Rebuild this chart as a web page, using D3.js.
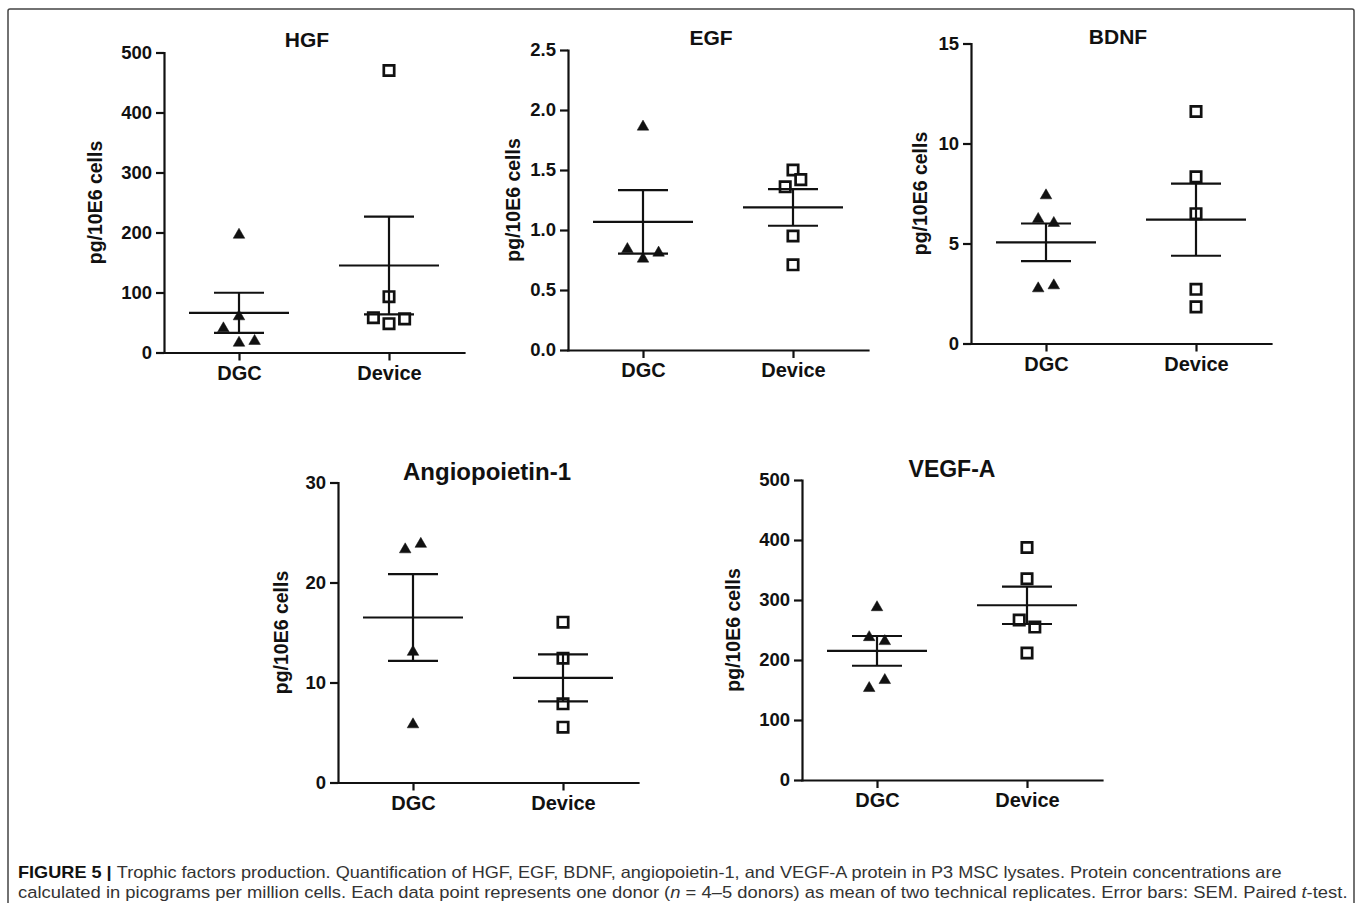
<!DOCTYPE html>
<html>
<head>
<meta charset="utf-8">
<script src="https://cdn.jsdelivr.net/npm/d3@7"></script>
<style>
  body { margin: 0; background: #fff; }
  svg { display: block; }
  .chart text { font-family: "Liberation Sans", Arial, sans-serif; font-weight: bold; fill: #111; }
  .caption { font-family: "Liberation Sans", Arial, sans-serif; font-size: 16.5px; fill: #333; }
</style>
</head>
<body>
<svg id="fig" width="1360" height="903"></svg>
<script>
// groups on the x axis
var groups = ["DGC", "Device"];

// values, pg/10E6 cells
var hgfDgc = [196, 60, 40, 16, 19];
var hgfDevice = [470, 93, 58, 48, 56];
var egfDgc = [1.86, 0.84, 0.76, 0.81];
var egfDevice = [1.50, 1.42, 1.36, 0.95, 0.71];
var bdnfDgc = [7.4, 6.22, 6.02, 2.75, 2.9];
var bdnfDevice = [11.6, 8.33, 6.49, 2.71, 1.83];
var angDgc = [23.3, 23.85, 13.05, 5.8];
var angDevice = [16.03, 12.43, 7.87, 5.53];
var vegfDgc = [287.7, 237.8, 231.2, 166.3, 153];
var vegfDevice = [387.5, 335.4, 266.6, 254.9, 211.7];

// side-by-side spreading of overlapping points (GraphPad scatter layout)
var hgfDgcSpread = [0, 0, -2, 0, 2];
var hgfDeviceSpread = [0, 0, -2, 0, 2];
var egfDgcSpread = [0, -2, 0, 2];
var egfDeviceSpread = [0, 1, -1, 0, 0];
var bdnfDgcSpread = [0, -1, 1, -1, 1];
var bdnfDeviceSpread = [0, 0, 0, 0, 0];
var angDgcSpread = [-1, 1, 0, 0];
var angDeviceSpread = [0, 0, 0, 0];
var vegfDgcSpread = [0, -1, 1, 1, -1];
var vegfDeviceSpread = [0, 0, -1, 1, 0];

// y axis ticks
var hgfTicks = [0, 100, 200, 300, 400, 500];
var egfTicks = [0, 0.5, 1.0, 1.5, 2.0, 2.5];
var bdnfTicks = [0, 5, 10, 15];
var angTicks = [0, 10, 20, 30];
var vegfTicks = [0, 100, 200, 300, 400, 500];

var svg = d3.select("#fig");

// frame round the whole figure
svg.append("rect")
    .attr("x", 8).attr("y", 9)
    .attr("width", 1346).attr("height", 910)
    .attr("rx", 2)
    .attr("fill", "none")
    .attr("stroke", "#444")
    .attr("stroke-width", 1.5);

var W = 300, H = 300, spreadUnit = 7.8;

function drawPanel(p) {
    var g = svg.append("g")
        .attr("class", "chart")
        .attr("transform", "translate(" + p.x + "," + p.y + ")");

    var y = d3.scaleLinear().domain([0, d3.max(p.ticks)]).range([H, 0]);
    var x = d3.scalePoint().domain(groups).range([0, W]).padding(0.5);

    // y axis
    var ya = g.append("g")
        .call(d3.axisLeft(y).tickValues(p.ticks).tickSize(8).tickSizeOuter(0)
            .tickPadding(4).tickFormat(d3.format(p.fmt)));
    // x axis
    var xa = g.append("g")
        .attr("transform", "translate(0," + H + ")")
        .call(d3.axisBottom(x).tickSize(8).tickSizeOuter(0).tickPadding(5));

    [ya, xa].forEach(function(a) {
        a.selectAll("path, line").attr("stroke", "#111").attr("stroke-width", 2.2);
        a.select(".domain").attr("stroke-linecap", "square");
    });
    ya.selectAll("text").style("font-size", "18.5px");
    xa.selectAll("text").style("font-size", "20px");

    // title
    g.append("text")
        .attr("x", p.titleX).attr("y", p.titleY)
        .attr("text-anchor", "middle")
        .style("font-size", p.titleSize + "px")
        .text(p.title);

    // y axis label
    g.append("text")
        .attr("transform", "translate(" + (p.labelX + 5) + "," + (H / 2) + ") rotate(-90)")
        .attr("text-anchor", "middle")
        .style("font-size", "19.5px")
        .text("pg/10E6 cells");

    var triangle = d3.symbol().type(d3.symbolTriangle).size(58);
    var square = d3.symbol().type(d3.symbolSquare).size(108);

    p.series.forEach(function(s, i) {
        var cx = x(groups[i]);
        var m = d3.mean(s.values);
        var sem = d3.deviation(s.values) / Math.sqrt(s.values.length);

        // points
        g.selectAll(null)
            .data(s.values)
            .enter().append("path")
            .attr("transform", function(d, k) {
                return "translate(" + (cx + s.spread[k] * spreadUnit) + "," + y(d) + ")";
            })
            .attr("d", i === 0 ? triangle : square)
            .attr("fill", i === 0 ? "#111" : "#fff")
            .attr("stroke", "#111")
            .attr("stroke-width", i === 0 ? 0.5 : 2.7);

        // mean and SEM bars
        var bars = [
            [cx - 50, y(m), cx + 50, y(m)],
            [cx - 25, y(m + sem), cx + 25, y(m + sem)],
            [cx - 25, y(m - sem), cx + 25, y(m - sem)],
            [cx, y(m + sem), cx, y(m - sem)]
        ];
        g.selectAll(null)
            .data(bars)
            .enter().append("line")
            .attr("x1", function(d) { return d[0]; })
            .attr("y1", function(d) { return d[1]; })
            .attr("x2", function(d) { return d[2]; })
            .attr("y2", function(d) { return d[3]; })
            .attr("stroke", "#111")
            .attr("stroke-width", 2.2);
    });
}

drawPanel({ title: "HGF", x: 164, y: 52.5, ticks: hgfTicks, fmt: "d",
    titleX: 143, titleY: -6, titleSize: 21, labelX: -67,
    series: [{ values: hgfDgc, spread: hgfDgcSpread }, { values: hgfDevice, spread: hgfDeviceSpread }] });
drawPanel({ title: "EGF", x: 568, y: 50, ticks: egfTicks, fmt: ".1f",
    titleX: 143, titleY: -5, titleSize: 21, labelX: -53,
    series: [{ values: egfDgc, spread: egfDgcSpread }, { values: egfDevice, spread: egfDeviceSpread }] });
drawPanel({ title: "BDNF", x: 971, y: 43.5, ticks: bdnfTicks, fmt: "d",
    titleX: 147, titleY: 0, titleSize: 21, labelX: -49,
    series: [{ values: bdnfDgc, spread: bdnfDgcSpread }, { values: bdnfDevice, spread: bdnfDeviceSpread }] });
drawPanel({ title: "Angiopoietin-1", x: 338, y: 482.5, ticks: angTicks, fmt: "d",
    titleX: 149, titleY: -3, titleSize: 24, labelX: -55,
    series: [{ values: angDgc, spread: angDgcSpread }, { values: angDevice, spread: angDeviceSpread }] });
drawPanel({ title: "VEGF-A", x: 802, y: 480, ticks: vegfTicks, fmt: "d",
    titleX: 150, titleY: -3, titleSize: 23, labelX: -67,
    series: [{ values: vegfDgc, spread: vegfDgcSpread }, { values: vegfDevice, spread: vegfDeviceSpread }] });

// caption
var cap = svg.append("g").attr("class", "caption");
var l1 = cap.append("text").attr("x", 18).attr("y", 878);
l1.append("tspan").attr("font-weight", "bold").attr("fill", "#111").text("FIGURE 5 | ");
l1.append("tspan").text("Trophic factors production. Quantification of HGF, EGF, BDNF, angiopoietin-1, and VEGF-A protein in P3 MSC lysates. Protein concentrations are");
var l2 = cap.append("text").attr("x", 18).attr("y", 898);
l2.append("tspan").text("calculated in picograms per million cells. Each data point represents one donor (");
l2.append("tspan").attr("font-style", "italic").text("n");
l2.append("tspan").text(" = 4\u20135 donors) as mean of two technical replicates. Error bars: SEM. Paired ");
l2.append("tspan").attr("font-style", "italic").text("t");
l2.append("tspan").text("-test.");

// squeeze the caption lines to the widths of the printed figure
[[l1, 1264], [l2, 1330]].forEach(function(d) {
    var w = d[0].node().getComputedTextLength();
    d[0].attr("transform", "translate(18,0) scale(" + (d[1] / w) + ",1) translate(-18,0)");
});
</script>
</body>
</html>
